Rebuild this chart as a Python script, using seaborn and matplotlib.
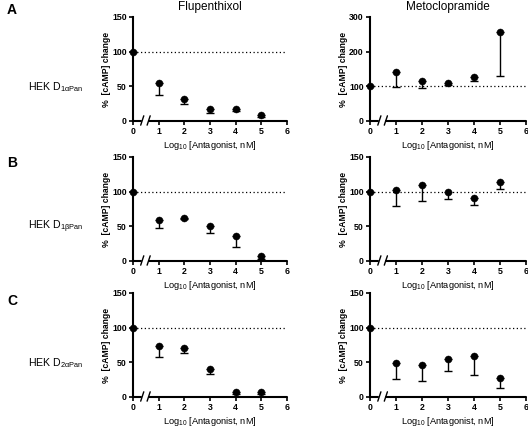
import matplotlib
matplotlib.use("Agg")
import matplotlib.pyplot as plt
import matplotlib.transforms as mtransforms
import numpy as np
import pandas as pd
import seaborn as sns

# log10 antagonist concentration
log_conc = [0, 1, 2, 3, 4, 5]

rows = ["A", "B", "C"]
cell_lines = ["HEK D$_{\\mathrm{1\u03b1Pan}}$", "HEK D$_{\\mathrm{1\u03b2Pan}}$", "HEK D$_{\\mathrm{2\u03b1Pan}}$"]
drugs = ["Flupenthixol", "Metoclopramide"]

# mean % cAMP change and lower end of the (one sided) error bar
flu_a_mean = [100, 55, 32, 17, 17, 8.5]
flu_a_low = [100, 38, 24.5, 12, 14, 6]
met_a_mean = [100, 140, 115, 109, 128, 258]
met_a_low = [100, 99, 96, 103, 114, 131]

flu_b_mean = [100, 59, 62, 50, 36, 7]
flu_b_low = [100, 48, 60.5, 41, 20, 3]
met_b_mean = [100, 103, 109, 99.5, 91, 113.5]
met_b_low = [100, 80, 87, 90, 81, 104]

flu_c_mean = [100, 73, 70, 41, 7, 7]
flu_c_low = [100, 58, 63.5, 33, 4.5, 5]
met_c_mean = [100, 48.5, 45.5, 55, 59, 28]
met_c_low = [100, 26, 23, 37, 32, 13.5]

means = [[flu_a_mean, met_a_mean], [flu_b_mean, met_b_mean], [flu_c_mean, met_c_mean]]
lows = [[flu_a_low, met_a_low], [flu_b_low, met_b_low], [flu_c_low, met_c_low]]
ymax = [[150, 300], [150, 150], [150, 150]]

sns.set_theme(style="ticks")
plt.rcParams["font.family"] = ["Liberation Sans", "DejaVu Sans"]
plt.rcParams["mathtext.fontset"] = "custom"
plt.rcParams["mathtext.rm"] = "Liberation Sans"
plt.rcParams["mathtext.it"] = "Liberation Sans:italic"
plt.rcParams["mathtext.bf"] = "Liberation Sans:bold"
for key in ["text.color", "axes.labelcolor", "xtick.color", "ytick.color", "axes.edgecolor"]:
    plt.rcParams[key] = "black"

W, H = 528, 429
fig = plt.figure(figsize=(W / 100, H / 100), dpi=100)

col_left = [133, 370]
col_width = [154, 156]
row_top = [17, 157, 293]
row_h = 104
letter_top = [3, 156, 294]

for r in range(3):
    for c in range(2):
        ax = fig.add_axes([col_left[c] / W, (H - row_top[r] - row_h) / H,
                           col_width[c] / W, row_h / H])
        df = pd.DataFrame({"x": log_conc, "y": means[r][c], "low": lows[r][c]})
        err = df["y"] - df["low"]
        ax.axhline(100, color="black", lw=0.9, ls=(0, (1, 2)), zorder=1)
        ax.errorbar(df["x"], df["y"], yerr=[err, np.zeros(len(df))], fmt="none",
                    ecolor="black", elinewidth=1.0, capsize=3, capthick=1.0, zorder=2)
        sns.scatterplot(data=df, x="x", y="y", ax=ax, color="black", s=26, marker="o",
                        edgecolor="black", linewidth=0.3, zorder=3, clip_on=False)
        ax.set_xlim(0, 6)
        ax.set_ylim(0, ymax[r][c])
        ax.set_xticks(range(7))
        ax.set_yticks(np.linspace(0, ymax[r][c], 4))
        sns.despine(ax=ax)
        ax.spines["left"].set_linewidth(1.5)
        ax.spines["bottom"].set_visible(False)
        # broken x axis
        trans = mtransforms.blended_transform_factory(ax.transData, ax.transAxes)
        ax.plot([0, 0.3], [0, 0], transform=trans, color="black", lw=1.5, clip_on=False)
        ax.plot([0.62, 6], [0, 0], transform=trans, color="black", lw=1.5, clip_on=False)
        for bx in (0.3, 0.55):
            ax.plot([bx, bx + 0.12], [-0.04, 0.05], transform=trans, color="black",
                    lw=1.0, clip_on=False)
        ax.tick_params(axis="both", length=3, width=1.2, labelsize=6.3, pad=1.5)
        for lab in ax.get_xticklabels() + ax.get_yticklabels():
            lab.set_fontweight("bold")
        ax.set_xlabel("Log$_{10}$ [Antagonist, nM]", fontsize=6.7, labelpad=2)
        ax.set_ylabel("%  [cAMP] change", fontsize=6.2, fontweight="bold", labelpad=1)
        if r == 0:
            ax.set_title(drugs[c], fontsize=8.5, pad=5)

    fig.text(7 / W, 1 - letter_top[r] / H, rows[r], fontsize=10, fontweight="bold",
             va="top", ha="left")
    fig.text(28 / W, 1 - (row_top[r] + 70) / H, cell_lines[r], fontsize=7.6,
             va="center", ha="left")

fig.savefig("out.png", dpi=100)
